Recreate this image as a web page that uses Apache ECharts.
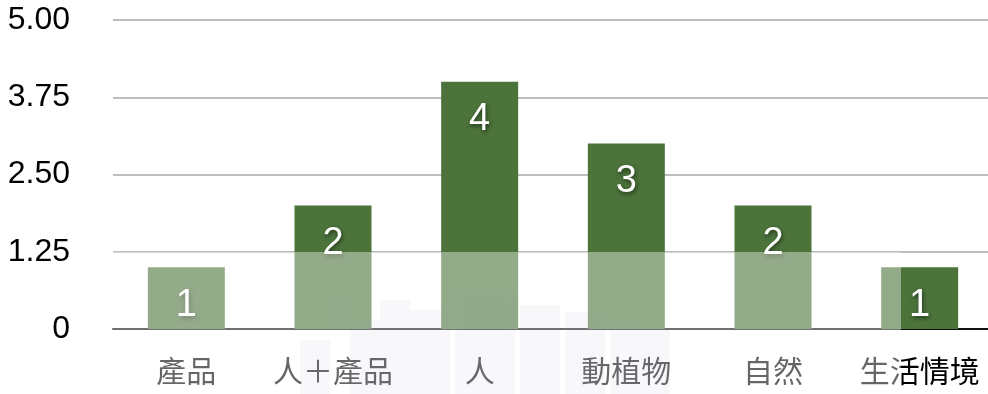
<!DOCTYPE html>
<html>
<head>
<meta charset="utf-8">
<script src="https://cdn.jsdelivr.net/npm/echarts@6/dist/echarts.min.js"></script>
<style>html,body{margin:0;padding:0;background:#fff}#c{width:988px;height:394px}</style>
</head>
<body>
<div id="c"></div>
<script>
var categories = ['產品', '人＋產品', '人', '動植物', '自然', '生活情境'];
var counts = [1, 2, 4, 3, 2, 1];
var yTickLabels = ['0', '1.25', '2.50', '3.75', '5.00'];

var chart = echarts.init(document.getElementById('c'));
var font = '"Liberation Sans", Helvetica, Arial, "Noto Sans CJK TC", sans-serif';
var cjk = '"Noto Sans CJK TC", "Liberation Sans", sans-serif';

var wm = [
  [330, 300, 20, 30], [350, 320, 30, 74], [380, 300, 30, 94], [410, 310, 40, 84],
  [455, 290, 60, 104], [520, 305, 40, 89], [565, 312, 40, 82], [610, 320, 30, 74],
  [640, 330, 30, 64], [300, 340, 30, 54]
];
var graphics = wm.map(function (r) {
  return { type: 'rect', z: 90, shape: { x: r[0], y: r[1], width: r[2], height: r[3] },
    style: { fill: 'rgba(70,70,150,0.06)', shadowBlur: 8, shadowColor: 'rgba(70,70,150,0.06)' }, silent: true };
});
graphics.push({
  type: 'rect', z: 100, silent: true,
  shape: { x: 100, y: 252, width: 801, height: 142 },
  style: { fill: 'rgba(255,255,255,0.4)' }
});

chart.setOption({
  animation: false,
  grid: { left: 113, right: -5, top: 20, bottom: 65, outerBoundsMode: 'none' },
  xAxis: {
    type: 'category',
    data: categories,
    axisLine: { lineStyle: { color: '#111', width: 2 } },
    axisTick: { show: false },
    axisLabel: { color: '#000', fontSize: 30, fontFamily: cjk, margin: 27, interval: 0 }
  },
  yAxis: {
    type: 'value',
    min: 0, max: 5, interval: 1.25,
    axisLine: { show: false },
    axisTick: { show: false },
    splitLine: { lineStyle: { color: '#bdbdbd', width: 2 } },
    axisLabel: {
      color: '#000', fontSize: 32, fontFamily: font, margin: 43,
      formatter: function (v) { return yTickLabels[Math.round(v / 1.25)]; }
    }
  },
  series: [{
    type: 'bar',
    data: counts,
    barWidth: 77,
    itemStyle: { color: '#4b733a' },
    label: {
      show: true, position: 'insideTop', distance: 19,
      color: '#fff', fontSize: 38, fontFamily: font,
      textShadowColor: 'rgba(0,0,0,0.55)', textShadowBlur: 4,
      textShadowOffsetX: 1, textShadowOffsetY: 2
    }
  }],
  graphic: graphics
});
</script>
</body>
</html>
